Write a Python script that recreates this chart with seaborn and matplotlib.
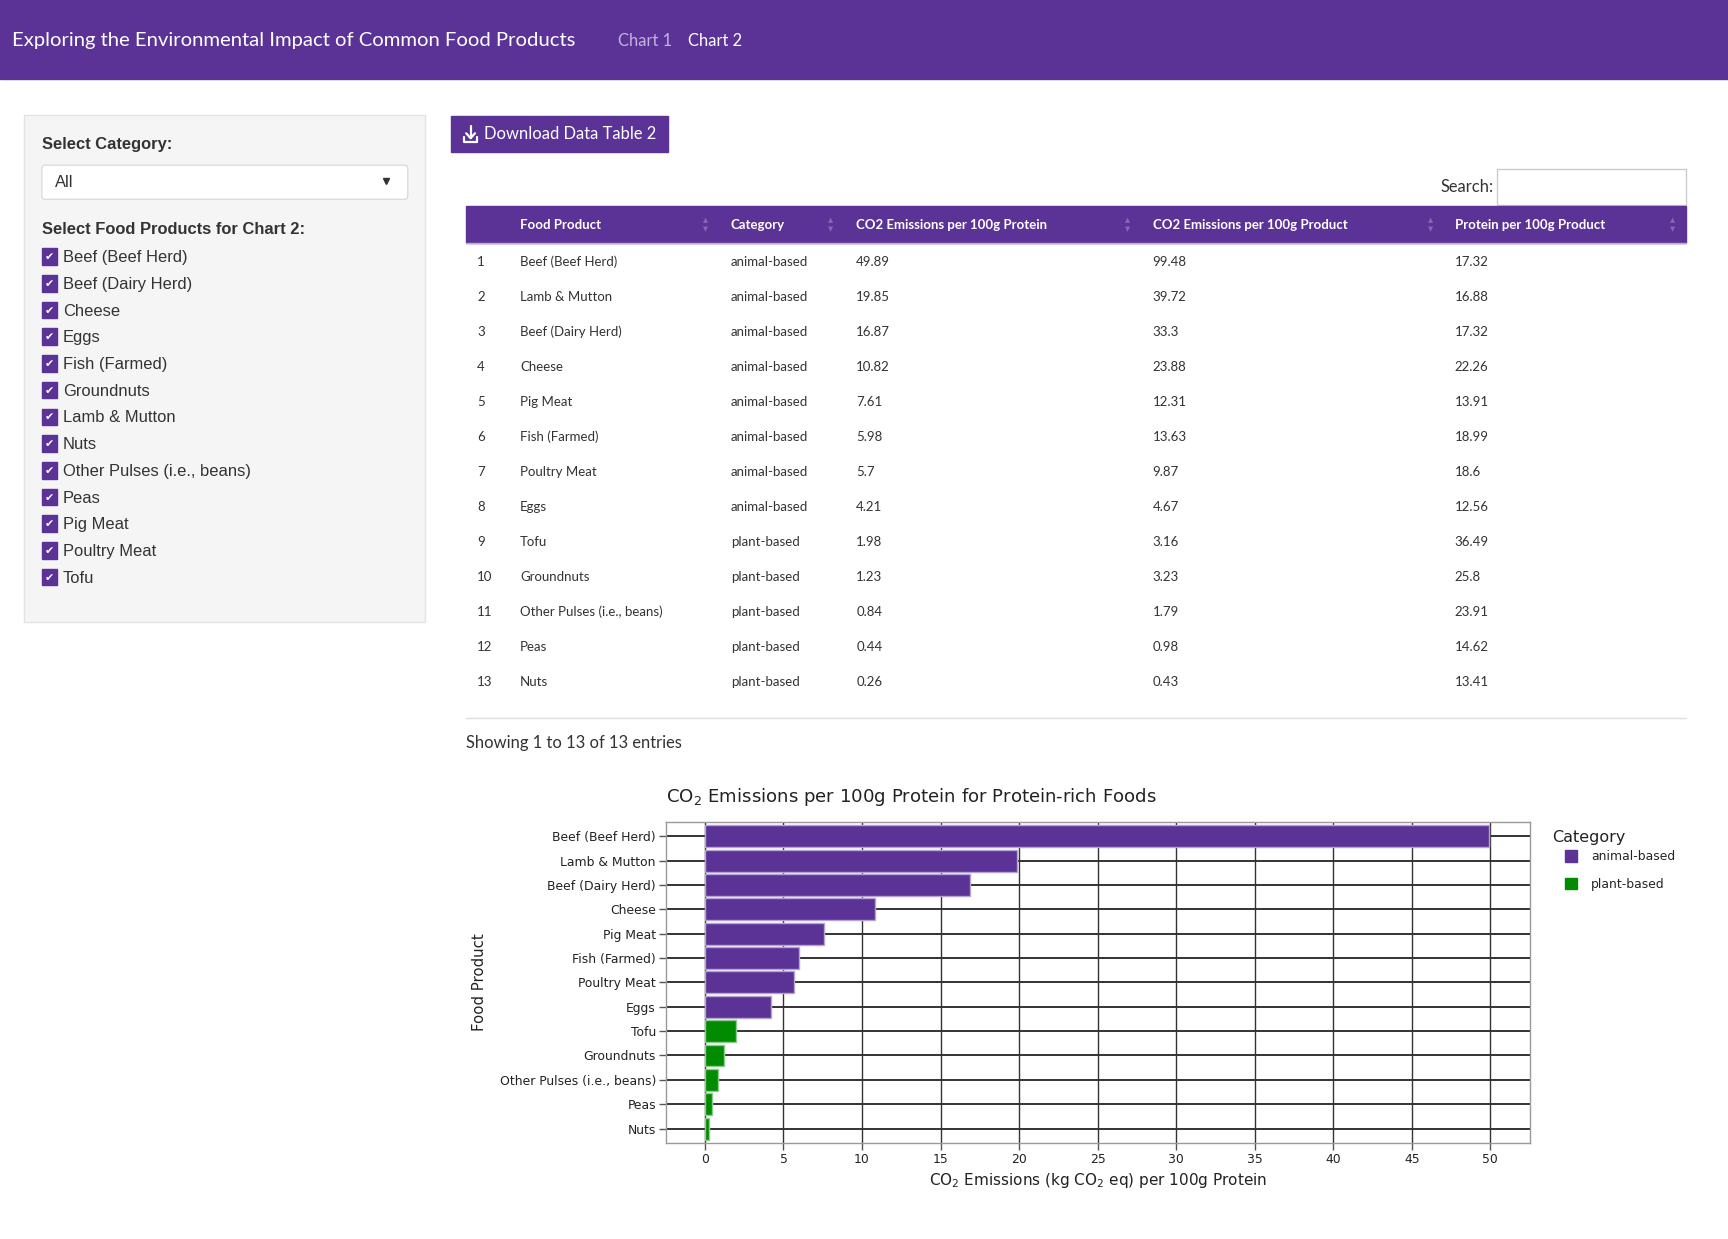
import numpy as np
import pandas as pd
import matplotlib
matplotlib.use("Agg")
import matplotlib.pyplot as plt
import matplotlib.patches as mpatches
import matplotlib.colors as mcolors
import seaborn as sns

# table / chart data
products = ["Beef (Beef Herd)", "Lamb & Mutton", "Beef (Dairy Herd)", "Cheese", "Pig Meat",
            "Fish (Farmed)", "Poultry Meat", "Eggs", "Tofu", "Groundnuts",
            "Other Pulses (i.e., beans)", "Peas", "Nuts"]
categories = ["animal-based"] * 8 + ["plant-based"] * 5
co2_per_protein = [49.89, 19.85, 16.87, 10.82, 7.61, 5.98, 5.7, 4.21, 1.98, 1.23, 0.84, 0.44, 0.26]
co2_per_product = [99.48, 39.72, 33.3, 23.88, 12.31, 13.63, 9.87, 4.67, 3.16, 3.23, 1.79, 0.98, 0.43]
protein_per_product = [17.32, 16.88, 17.32, 22.26, 13.91, 18.99, 18.6, 12.56, 36.49, 25.8, 23.91, 14.62, 13.41]
table_headers = ["Food Product", "Category", "CO2 Emissions per 100g Protein",
                 "CO2 Emissions per 100g Product", "Protein per 100g Product"]

df = pd.DataFrame({
    "Food Product": products,
    "Category": categories,
    "co2_protein": co2_per_protein,
    "co2_product": co2_per_product,
    "protein": protein_per_product,
})

PURPLE = "#5b3296"
GREEN = "#008b00"
UI_FONT = ["Lato", "DejaVu Sans"]
SIDE_FONT = ["Liberation Sans", "DejaVu Sans"]

sns.set_theme(style="white")
plt.rcParams["font.family"] = ["DejaVu Sans"]

W, H = 1568, 1125  # layout coordinates
fig = plt.figure(figsize=(17.28, 12.39), dpi=100)
fig.patch.set_facecolor("white")

# overlay for the page elements
ui = fig.add_axes([0, 0, 1, 1])
ui.set_xlim(0, W)
ui.set_ylim(H, 0)
ui.axis("off")


def pt(px):
    return px * 0.7934


# header bar
ui.add_patch(mpatches.Rectangle((0, 0), W, 72, color=PURPLE, zorder=1))
ui.text(11, 37, "Exploring the Environmental Impact of Common Food Products", color="white",
        fontsize=pt(18.4), va="center", ha="left", family=UI_FONT)
ui.text(561, 37, "Chart 1", color="#c4b3df", fontsize=pt(15), va="center", family=UI_FONT)
ui.text(624, 37, "Chart 2", color="white", fontsize=pt(15), va="center", family=UI_FONT)

# sidebar
ui.add_patch(mpatches.Rectangle((22, 104), 364, 461, facecolor="#f5f5f5", edgecolor="#e3e3e3", lw=1))
ui.text(38, 131, "Select Category:", fontsize=pt(15), weight="bold", color="#333333",
        va="center", family=SIDE_FONT)
ui.add_patch(mpatches.FancyBboxPatch((38, 150), 332, 31, boxstyle="round,pad=0,rounding_size=3",
                                     facecolor="white", edgecolor="#dcdcdc", lw=1))
ui.text(50, 166, "All", fontsize=pt(15), color="#333333", va="center", family=SIDE_FONT)
ui.plot([350], [164.5], marker="v", color="#333333", markersize=5)
ui.text(38, 208, "Select Food Products for Chart 2:", fontsize=pt(15), weight="bold",
        color="#333333", va="center", family=SIDE_FONT)
for i, name in enumerate(sorted(products)):
    y = 233 + i * 24.25
    ui.add_patch(mpatches.Rectangle((38, y - 7.5), 14, 15, color=PURPLE))
    ui.text(45, y + 0.5, "\u2714", color="white", fontsize=pt(10), ha="center", va="center",
            family=["DejaVu Sans"])
    ui.text(57, y + 1, name, fontsize=pt(15), color="#333333", va="center", family=SIDE_FONT)

# download button
ui.add_patch(mpatches.Rectangle((409, 105), 197, 33, color=PURPLE))
ui.plot([427, 427], [114, 125], color="white", lw=1.6)
ui.plot([423, 427, 431], [121, 125.5, 121], color="white", lw=1.6)
ui.plot([421, 421, 433, 433], [124, 129, 129, 124], color="white", lw=1.6)
ui.text(439, 122, "Download Data Table 2", color="white", fontsize=pt(15), va="center",
        family=UI_FONT)

# search box
ui.text(1355, 170, "Search:", fontsize=pt(15), color="#333333", va="center", ha="right",
        family=UI_FONT)
ui.add_patch(mpatches.Rectangle((1358, 153), 172, 33, facecolor="white", edgecolor="#cccccc", lw=1))

# data table
col_x = [472, 663, 777, 1046, 1320]
arrow_x = [640, 754, 1023, 1298, 1518]
ui.add_patch(mpatches.Rectangle((423, 187), 1107, 34, color=PURPLE))
for cx, ax_, label in zip(col_x, arrow_x, table_headers):
    ui.text(cx, 204, label, color="white", fontsize=pt(12), weight="bold", va="center",
            family=UI_FONT)
    ui.text(ax_, 200, "\u25b2", color="#8468b5", fontsize=pt(6), ha="center", va="center",
            family=["DejaVu Sans"])
    ui.text(ax_, 208, "\u25bc", color="#8468b5", fontsize=pt(6), ha="center", va="center",
            family=["DejaVu Sans"])
ui.plot([423, 1530], [221, 221], color="#bca9db", lw=1)
for i, row in df.iterrows():
    y = 238 + i * 31.75
    vals = [str(i + 1), row["Food Product"], row["Category"], f"{row['co2_protein']:g}",
            f"{row['co2_product']:g}", f"{row['protein']:g}"]
    for x, v in zip([433] + col_x, vals):
        ui.text(x, y, v, fontsize=pt(12), color="#333333", va="center", family=UI_FONT)
ui.plot([423, 1530], [652, 652], color="#dddddd", lw=1)
ui.text(423, 675, "Showing 1 to 13 of 13 entries", fontsize=pt(15), color="#333333",
        va="center", family=UI_FONT)

# bar chart
x0, x1, y0, y1 = 604, 1388, 746, 1038
ax = fig.add_axes([x0 / W, 1 - y1 / H, (x1 - x0) / W, (y1 - y0) / H])
palette = {"animal-based": PURPLE, "plant-based": GREEN}
sns.barplot(data=df, x="co2_protein", y="Food Product", hue="Category", palette=palette,
            dodge=False, width=0.9, orient="h", saturation=1, ax=ax, zorder=3, linewidth=1,
            legend=False)
for p in ax.patches:
    fc = np.array(mcolors.to_rgb(p.get_facecolor()))
    p.set_edgecolor(fc * 0.45 + 0.55)

ax.set_xlim(-2.5, 52.5)
ax.set_ylim(12.6, -0.6)
ax.set_xticks(np.arange(0, 51, 5))
ax.set_axisbelow(True)
for v in np.arange(0, 51, 5):
    ax.axvline(v, color="#333333", lw=1, zorder=1)
for k in range(len(products)):
    ax.axhline(k, color="#333333", lw=1.4, zorder=1)
for s in ax.spines.values():
    s.set_color("#999999")
    s.set_linewidth(1)
ax.tick_params(axis="both", which="both", length=5, width=1, color="#555555", labelsize=pt(11.2),
               labelcolor="#222222", left=True, bottom=True, pad=2)
ax.set_title("CO$_2$ Emissions per 100g Protein for Protein-rich Foods", fontsize=pt(16.5),
             loc="left", x=0.0, pad=14, color="#222222")
ax.set_xlabel("CO$_2$ Emissions (kg CO$_2$ eq) per 100g Protein", fontsize=pt(13.8), color="#222222",
              labelpad=4)
ax.set_ylabel("Food Product", fontsize=pt(13.5), color="#222222")
ax.yaxis.set_label_coords(-0.207, 0.5)

# legend: title as text, entries indented below it
ax.text((1408 - x0) / (x1 - x0), (y1 - 760) / (y1 - y0), "Category", transform=ax.transAxes,
        fontsize=pt(14.5), color="#222222", ha="left", va="center")
handles = [mpatches.Patch(color=PURPLE, label="animal-based"),
           mpatches.Patch(color=GREEN, label="plant-based")]
ax.legend(handles=handles, loc="upper left",
          bbox_to_anchor=((1420 - x0) / (x1 - x0), (y1 - 772) / (y1 - y0)),
          frameon=False, fontsize=pt(11.3), handlelength=1.0, handleheight=1.0,
          labelspacing=1.2, handletextpad=1.1, borderaxespad=0, borderpad=0)

fig.savefig("out.png", dpi=100)
